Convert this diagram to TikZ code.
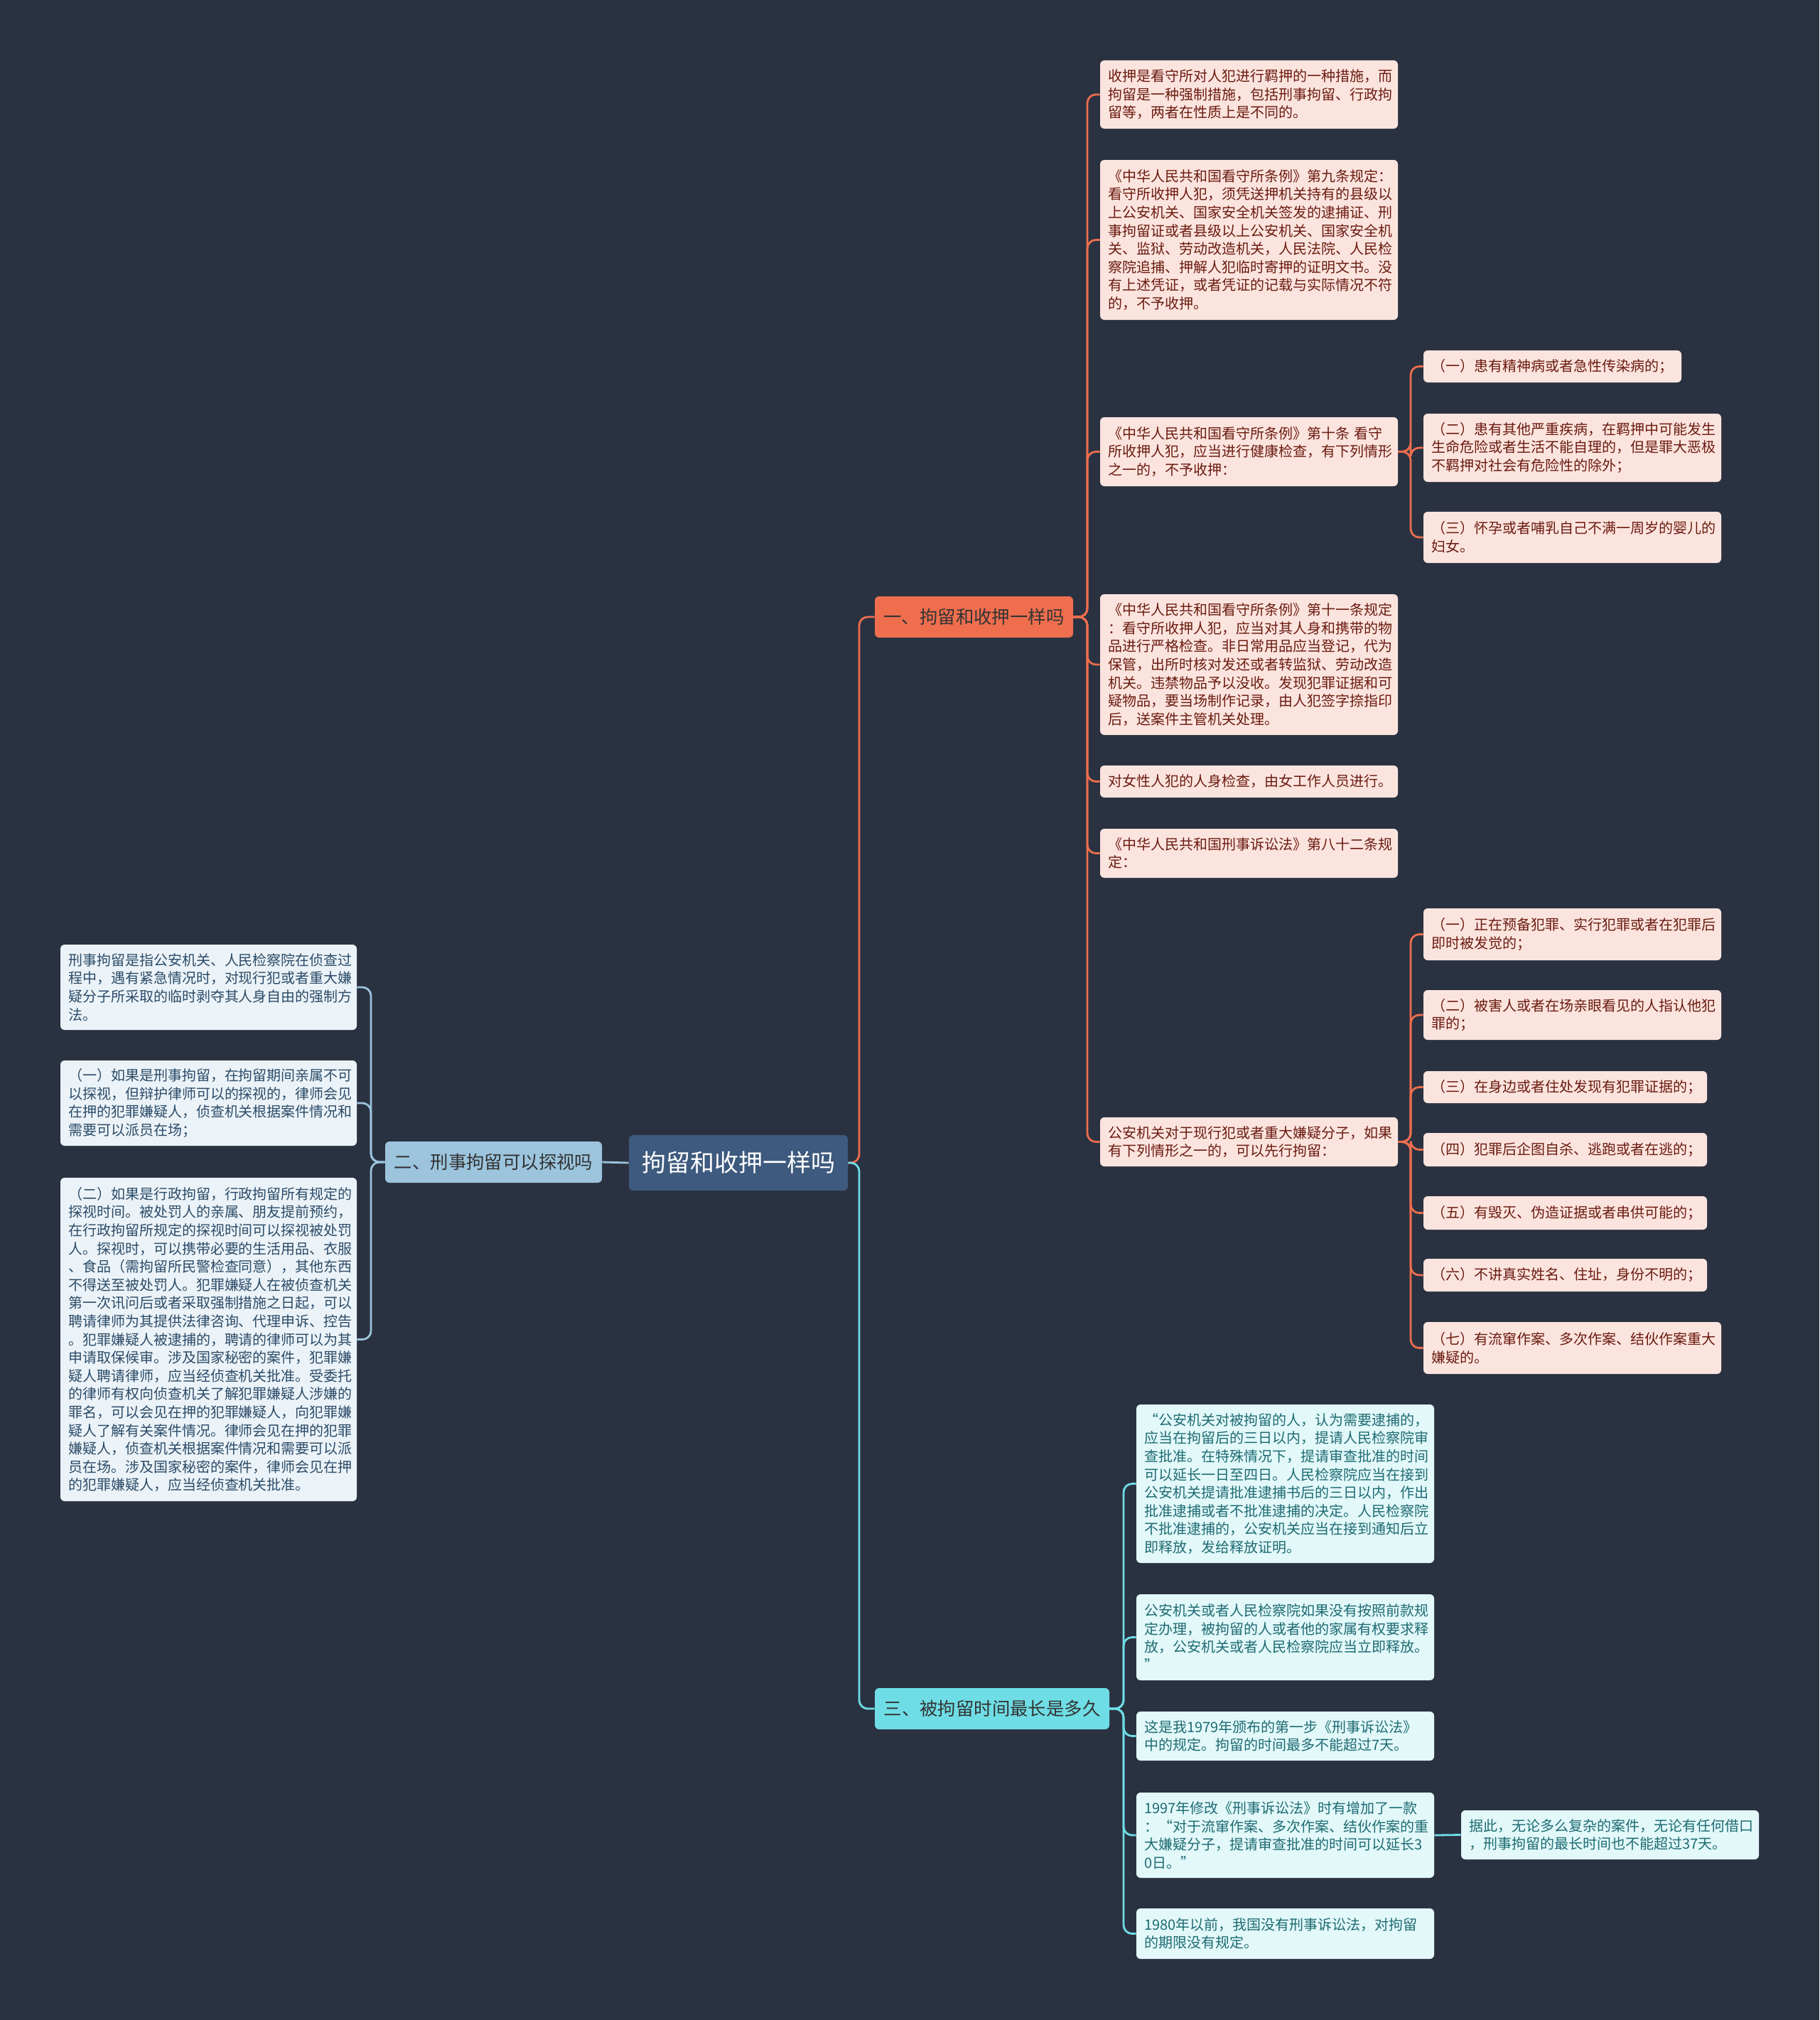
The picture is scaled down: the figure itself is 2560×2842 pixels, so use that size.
\documentclass[tikz,border=0pt]{standalone}
\usepackage{fontspec}
\setmainfont{Noto Sans CJK SC}
\definecolor{bg}{HTML}{2A3241}
\definecolor{rootfill}{HTML}{3E5A7E}
\definecolor{oa}{HTML}{EE6E4E}
\definecolor{ofill}{HTML}{FCE4DE}
\definecolor{otext}{HTML}{6A1B10}
\definecolor{ba}{HTML}{9CC4DD}
\definecolor{bfill}{HTML}{EBF3F8}
\definecolor{btext}{HTML}{2C4B68}
\definecolor{ca}{HTML}{6FDDE5}
\definecolor{cfill}{HTML}{E2F8F9}
\definecolor{ctext}{HTML}{1E6B73}
\tikzset{
  basebox/.style={rectangle, rounded corners=3pt, inner xsep=5.5pt, inner ysep=0pt, align=left},
  rootbox/.style={basebox, fill=rootfill, text=white, align=center, font=\fontsize{17}{20}\selectfont},
  obranch/.style={basebox, fill=oa, text=black!80, align=center, font=\fontsize{12.7}{15}\selectfont},
  bbranch/.style={basebox, fill=ba, text=black!80, align=center, font=\fontsize{12.7}{15}\selectfont},
  cbranch/.style={basebox, fill=ca, text=black!80, align=center, font=\fontsize{12.7}{15}\selectfont},
  obox/.style={basebox, fill=ofill, text=otext, font=\fontsize{10}{12.8}\selectfont},
  bboxs/.style={basebox, fill=bfill, text=btext, font=\fontsize{10}{12.8}\selectfont},
  cbox/.style={basebox, fill=cfill, text=ctext, font=\fontsize{10}{12.8}\selectfont},
  oline/.style={draw=oa, line width=1.4pt, rounded corners=6pt},
  bline/.style={draw=ba, line width=1.4pt, rounded corners=6pt},
  cline/.style={draw=ca, line width=1.4pt, rounded corners=6pt},
}
\newcommand\mmbox[7]{%
  \pgfmathsetmacro\mmw{(#4-#2)*0.5}%
  \pgfmathsetmacro\mmh{(#5-#3)*0.5}%
  \pgfmathsetmacro\mmtw{(#4-#2)*0.5-11}%
  \pgfmathsetmacro\mmcx{(#2+#4)/2}%
  \pgfmathsetmacro\mmcy{(#3+#5)/2}%
  \node[#6, minimum width=\mmw pt, minimum height=\mmh pt, text width=\mmtw pt] (#1) at (\mmcx,\mmcy) {#7};}
\begin{document}
\begin{tikzpicture}[x=0.5pt,y=-0.5pt]
\fill[bg] (0,0) rectangle (2560,2842);
\useasboundingbox (0,0) rectangle (2560,2842);

% root and branches
\mmbox{root}{885}{1597}{1193}{1675}{rootbox}{拘留和收押一样吗}
\mmbox{b1}{1231}{839}{1510}{897}{obranch}{一、拘留和收押一样吗}
\mmbox{b2}{542}{1606}{847}{1664}{bbranch}{二、刑事拘留可以探视吗}
\mmbox{b3}{1231}{2375}{1561}{2433}{cbranch}{三、被拘留时间最长是多久}

% branch 1 children
\mmbox{c1}{1548}{85}{1967}{181}{obox}{收押是看守所对人犯进行羁押的一种措施，而\\拘留是一种强制措施，包括刑事拘留、行政拘\\留等，两者在性质上是不同的。}
\mmbox{c2}{1548}{225}{1967}{450}{obox}{《中华人民共和国看守所条例》第九条规定：\\看守所收押人犯，须凭送押机关持有的县级以\\上公安机关、国家安全机关签发的逮捕证、刑\\事拘留证或者县级以上公安机关、国家安全机\\关、监狱、劳动改造机关，人民法院、人民检\\察院追捕、押解人犯临时寄押的证明文书。没\\有上述凭证，或者凭证的记载与实际情况不符\\的，不予收押。}
\mmbox{c3}{1548}{587}{1967}{684}{obox}{《中华人民共和国看守所条例》第十条~看守\\所收押人犯，应当进行健康检查，有下列情形\\之一的，不予收押：}
\mmbox{c4}{1548}{836}{1967}{1034}{obox}{《中华人民共和国看守所条例》第十一条规定\\：看守所收押人犯，应当对其人身和携带的物\\品进行严格检查。非日常用品应当登记，代为\\保管，出所时核对发还或者转监狱、劳动改造\\机关。违禁物品予以没收。发现犯罪证据和可\\疑物品，要当场制作记录，由人犯签字捺指印\\后，送案件主管机关处理。}
\mmbox{c5}{1548}{1077}{1967}{1122}{obox}{对女性人犯的人身检查，由女工作人员进行。}
\mmbox{c6}{1548}{1166}{1967}{1235}{obox}{《中华人民共和国刑事诉讼法》第八十二条规\\定：}
\mmbox{c7}{1548}{1572}{1967}{1641}{obox}{公安机关对于现行犯或者重大嫌疑分子，如果\\有下列情形之一的，可以先行拘留：}

% c3 children
\mmbox{c3a}{2003}{493}{2366}{538}{obox}{（一）患有精神病或者急性传染病的；}
\mmbox{c3b}{2003}{582}{2422}{678}{obox}{（二）患有其他严重疾病，在羁押中可能发生\\生命危险或者生活不能自理的，但是罪大恶极\\不羁押对社会有危险性的除外；}
\mmbox{c3c}{2003}{720}{2422}{792}{obox}{（三）怀孕或者哺乳自己不满一周岁的婴儿的\\妇女。}

% c7 children
\mmbox{c7a}{2003}{1278}{2422}{1351}{obox}{（一）正在预备犯罪、实行犯罪或者在犯罪后\\即时被发觉的；}
\mmbox{c7b}{2003}{1393}{2422}{1463}{obox}{（二）被害人或者在场亲眼看见的人指认他犯\\罪的；}
\mmbox{c7c}{2003}{1507}{2402}{1552}{obox}{（三）在身边或者住处发现有犯罪证据的；}
\mmbox{c7d}{2003}{1594}{2402}{1641}{obox}{（四）犯罪后企图自杀、逃跑或者在逃的；}
\mmbox{c7e}{2003}{1683}{2402}{1730}{obox}{（五）有毁灭、伪造证据或者串供可能的；}
\mmbox{c7f}{2003}{1771}{2402}{1817}{obox}{（六）不讲真实姓名、住址，身份不明的；}
\mmbox{c7g}{2003}{1860}{2422}{1933}{obox}{（七）有流窜作案、多次作案、结伙作案重大\\嫌疑的。}

% branch 2 children
\mmbox{L1}{85}{1329}{502}{1449}{bboxs}{刑事拘留是指公安机关、人民检察院在侦查过\\程中，遇有紧急情况时，对现行犯或者重大嫌\\疑分子所采取的临时剥夺其人身自由的强制方\\法。}
\mmbox{L2}{85}{1492}{502}{1612}{bboxs}{（一）如果是刑事拘留，在拘留期间亲属不可\\以探视，但辩护律师可以的探视的，律师会见\\在押的犯罪嫌疑人，侦查机关根据案件情况和\\需要可以派员在场；}
\mmbox{L3}{85}{1657}{502}{2112}{bboxs}{（二）如果是行政拘留，行政拘留所有规定的\\探视时间。被处罚人的亲属、朋友提前预约，\\在行政拘留所规定的探视时间可以探视被处罚\\人。探视时，可以携带必要的生活用品、衣服\\、食品（需拘留所民警检查同意），其他东西\\不得送至被处罚人。犯罪嫌疑人在被侦查机关\\第一次讯问后或者采取强制措施之日起，可以\\聘请律师为其提供法律咨询、代理申诉、控告\\。犯罪嫌疑人被逮捕的，聘请的律师可以为其\\申请取保候审。涉及国家秘密的案件，犯罪嫌\\疑人聘请律师，应当经侦查机关批准。受委托\\的律师有权向侦查机关了解犯罪嫌疑人涉嫌的\\罪名，可以会见在押的犯罪嫌疑人，向犯罪嫌\\疑人了解有关案件情况。律师会见在押的犯罪\\嫌疑人，侦查机关根据案件情况和需要可以派\\员在场。涉及国家秘密的案件，律师会见在押\\的犯罪嫌疑人，应当经侦查机关批准。}

% branch 3 children
\mmbox{d1}{1599}{1976}{2018}{2199}{cbox}{“公安机关对被拘留的人，认为需要逮捕的，\\应当在拘留后的三日以内，提请人民检察院审\\查批准。在特殊情况下，提请审查批准的时间\\可以延长一日至四日。人民检察院应当在接到\\公安机关提请批准逮捕书后的三日以内，作出\\批准逮捕或者不批准逮捕的决定。人民检察院\\不批准逮捕的，公安机关应当在接到通知后立\\即释放，发给释放证明。}
\mmbox{d2}{1599}{2243}{2018}{2364}{cbox}{公安机关或者人民检察院如果没有按照前款规\\定办理，被拘留的人或者他的家属有权要求释\\放，公安机关或者人民检察院应当立即释放。\\”}
\mmbox{d3}{1599}{2408}{2018}{2477}{cbox}{这是我1979年颁布的第一步《刑事诉讼法》\\中的规定。拘留的时间最多不能超过7天。}
\mmbox{d4}{1599}{2522}{2018}{2642}{cbox}{1997年修改《刑事诉讼法》时有增加了一款\\：“对于流窜作案、多次作案、结伙作案的重\\大嫌疑分子，提请审查批准的时间可以延长3\\0日。”}
\mmbox{d4a}{2056}{2547}{2475}{2616}{cbox}{据此，无论多么复杂的案件，无论有任何借口\\，刑事拘留的最长时间也不能超过37天。}
\mmbox{d5}{1599}{2685}{2018}{2756}{cbox}{1980年以前，我国没有刑事诉讼法，对拘留\\的期限没有规定。}

% connectors
\coordinate (t0) at (1209,1636);
\draw[oline] (root.east) -- (t0) |- (b1.west);
\draw[cline] (root.east) -- (t0) |- (b3.west);
\draw[bline] (root.west) -- (b2.east);

\coordinate (t1) at (1530,868);
\foreach \n in {c1,c2,c3,c4,c5,c6,c7}
  \draw[oline] (b1.east) -- (t1) |- (\n.west);

\coordinate (t3) at (1985,635.5);
\foreach \n in {c3a,c3b,c3c}
  \draw[oline] (c3.east) -- (t3) |- (\n.west);

\coordinate (t7) at (1985,1606.5);
\foreach \n in {c7a,c7b,c7c,c7d,c7e,c7f,c7g}
  \draw[oline] (c7.east) -- (t7) |- (\n.west);

\coordinate (t2) at (522,1635);
\foreach \n in {L1,L2,L3}
  \draw[bline] (b2.west) -- (t2) |- (\n.east);

\coordinate (t4) at (1581,2404);
\foreach \n in {d1,d2,d3,d4,d5}
  \draw[cline] (b3.east) -- (t4) |- (\n.west);
\draw[cline] (d4.east) -- (d4a.west);
\end{tikzpicture}
\end{document}
